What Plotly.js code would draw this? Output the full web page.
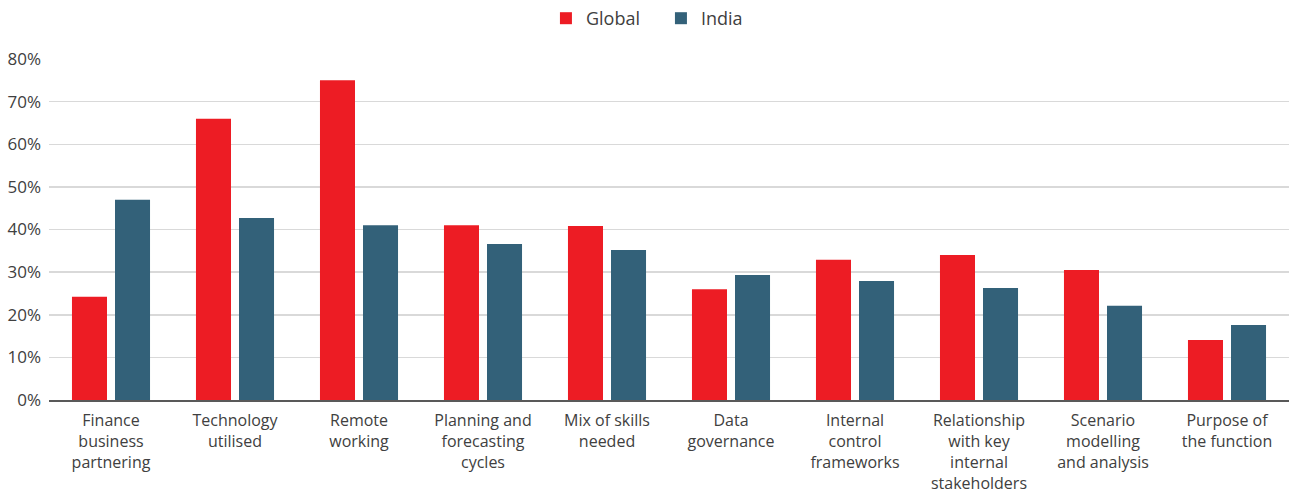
<!DOCTYPE html>
<html><head><meta charset="utf-8">
<script src="https://cdn.plot.ly/plotly-3.0.1.min.js"></script>
<style>body{margin:0;background:#fff}#c{width:1295px;height:491px}</style>
</head><body><div id="c"></div>
<script>
const categories = ["Finance<br>business<br>partnering","Technology<br>utilised","Remote<br>working","Planning and<br>forecasting<br>cycles","Mix of skills<br>needed","Data<br>governance","Internal<br>control<br>frameworks","Relationship<br>with key<br>internal<br>stakeholders","Scenario<br>modelling<br>and analysis","Purpose of<br>the function"];
const globalVals = [0.242, 0.66, 0.75, 0.41, 0.408, 0.26, 0.329, 0.34, 0.305, 0.141];
const indiaVals = [0.47, 0.427, 0.41, 0.366, 0.352, 0.293, 0.279, 0.263, 0.221, 0.176];
const yTicks = [0,0.1,0.2,0.3,0.4,0.5,0.6,0.7,0.8];

const font = {family: "'Open Sans', sans-serif", size: 16, color: "#404040"};
const yFont = {family: "'Open Sans', sans-serif", size: 17, color: "#404040"};
const legFont = {family: "'Open Sans', sans-serif", size: 18, color: "#404040"};
Plotly.newPlot("c", [
  {type:"bar", name:"Global", x:categories, y:globalVals, marker:{color:"#ED1C24"}, hoverinfo:"none"},
  {type:"bar", name:"India", x:categories, y:indiaVals, marker:{color:"#336179"}, hoverinfo:"none"}
], {
  width:1295, height:491,
  margin:{l:49, r:6, t:59, b:91},
  font: font,
  barmode:"group", bargap:0.306, bargroupgap:0.186,
  showlegend:true,
  legend:{orientation:"h", x:0.4935, xanchor:"center", y:1.0, yanchor:"top", yref:"container", font:legFont, itemwidth:30, entrywidth:70, traceorder:"normal"},
  xaxis:{tickfont:font, showgrid:false, showline:true, linecolor:"#595959", linewidth:2, ticks:"", tickangle:0, automargin:false, ticklabelstandoff:5},
  yaxis:{range:[0,0.8], tickvals:yTicks, tickformat:".0%", tickfont:yFont, gridcolor:"#d9d9d9", gridwidth:1.5, zeroline:false, showline:false, ticks:"", automargin:false, ticklabelstandoff:7},
  plot_bgcolor:"#fff", paper_bgcolor:"#fff"
}, {displayModeBar:false, staticPlot:true});
</script></body></html>
